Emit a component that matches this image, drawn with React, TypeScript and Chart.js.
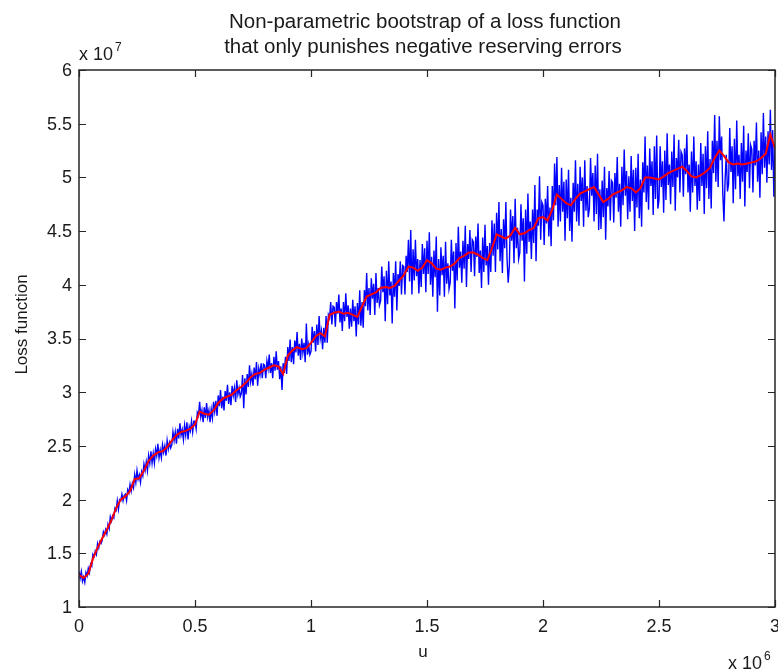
import React, { useEffect, useRef } from "react";
import { Chart, registerables } from "chart.js";

Chart.register(...registerables);

// u axis in units of 10^6, loss function in units of 10^7
const BLUE_STEP = 0.005;
const RED_STEP = 0.02;

const bootstrapLoss: number[] = [
  1.33, 1.27, 1.33, 1.24, 1.28, 1.23, 1.32, 1.29, 1.36, 1.32, 1.40, 1.38, 1.49, 1.47, 1.52, 1.49, 1.59, 1.55, 1.61, 1.59,
  1.62, 1.70, 1.67, 1.72, 1.68, 1.77, 1.73, 1.84, 1.80, 1.85, 1.83, 1.92, 1.90, 1.99, 1.91, 2.00, 1.99, 2.05, 1.99, 2.04,
  2.05, 1.99, 2.09, 2.06, 2.14, 2.08, 2.15, 2.11, 2.23, 2.16, 2.27, 2.19, 2.23, 2.16, 2.26, 2.22, 2.33, 2.27, 2.35, 2.27,
  2.41, 2.34, 2.45, 2.34, 2.43, 2.34, 2.47, 2.41, 2.52, 2.39, 2.46, 2.39, 2.51, 2.44, 2.50, 2.41, 2.55, 2.47, 2.53, 2.48,
  2.51, 2.63, 2.55, 2.63, 2.52, 2.66, 2.57, 2.71, 2.60, 2.65, 2.56, 2.69, 2.60, 2.72, 2.56, 2.68, 2.64, 2.73, 2.63, 2.73,
  2.73, 2.66, 2.81, 2.78, 2.91, 2.77, 2.83, 2.72, 2.86, 2.76, 2.90, 2.77, 2.83, 2.72, 2.84, 2.76, 2.91, 2.82, 2.92, 2.78,
  2.97, 2.87, 3.02, 2.85, 2.96, 2.83, 3.01, 2.92, 3.07, 2.89, 3.00, 2.88, 3.06, 2.97, 3.04, 2.91, 3.11, 2.98, 3.04, 2.96,
  2.99, 3.16, 2.85, 3.13, 2.98, 3.17, 3.05, 3.25, 3.10, 3.17, 3.06, 3.23, 3.12, 3.28, 3.06, 3.22, 3.16, 3.27, 3.13, 3.26,
  3.25, 3.13, 3.29, 3.22, 3.35, 3.18, 3.27, 3.13, 3.33, 3.20, 3.38, 3.21, 3.29, 3.12, 3.24, 3.02, 3.27, 3.18, 3.33, 3.17,
  3.42, 3.29, 3.49, 3.28, 3.42, 3.26, 3.48, 3.37, 3.56, 3.34, 3.45, 3.30, 3.50, 3.37, 3.46, 3.28, 3.64, 3.35, 3.44, 3.35,
  3.38, 3.61, 3.46, 3.57, 3.38, 3.63, 3.44, 3.71, 3.50, 3.57, 3.40, 3.60, 3.46, 3.71, 3.46, 3.72, 3.69, 3.84, 3.63, 3.80,
  3.79, 3.61, 3.84, 3.73, 3.91, 3.65, 3.78, 3.57, 3.84, 3.66, 3.92, 3.70, 3.81, 3.59, 3.78, 3.61, 3.86, 3.66, 3.80, 3.52,
  3.83, 3.63, 3.95, 3.62, 3.84, 3.60, 3.95, 3.80, 4.11, 3.76, 3.97, 3.72, 4.06, 3.87, 4.01, 3.72, 4.11, 3.83, 3.97, 3.81,
  3.85, 4.17, 3.93, 4.08, 3.66, 4.13, 3.82, 4.22, 3.90, 4.03, 3.64, 4.11, 3.89, 4.22, 3.76, 4.10, 3.99, 4.22, 3.91, 4.18,
  4.17, 3.91, 4.27, 4.12, 4.42, 4.03, 4.51, 3.91, 4.33, 4.04, 4.42, 4.08, 4.24, 3.92, 4.23, 3.98, 4.38, 4.10, 4.34, 3.93,
  4.41, 4.10, 4.49, 4.00, 4.26, 3.89, 4.32, 4.07, 4.45, 3.75, 4.24, 3.90, 4.35, 4.09, 4.27, 3.89, 4.40, 4.01, 4.20, 3.96,
  4.02, 4.42, 4.13, 4.31, 3.78, 4.39, 4.04, 4.54, 4.16, 4.31, 4.02, 4.41, 4.15, 4.55, 3.98, 4.38, 4.24, 4.51, 4.12, 4.42,
  4.40, 4.08, 4.45, 4.26, 4.57, 4.11, 4.32, 3.97, 4.44, 4.12, 4.56, 4.18, 4.36, 4.00, 4.39, 4.12, 4.60, 4.27, 4.57, 4.12,
  4.67, 4.33, 4.77, 4.22, 4.52, 4.11, 4.61, 4.34, 4.77, 4.24, 4.02, 4.18, 4.70, 4.41, 4.64, 4.20, 4.80, 4.34, 4.53, 4.24,
  4.30, 4.75, 4.41, 4.62, 4.03, 4.70, 4.29, 4.85, 4.40, 4.59, 4.24, 4.70, 4.39, 4.93, 4.22, 4.70, 4.55, 5.01, 4.42, 4.77,
  4.74, 4.37, 4.80, 4.57, 4.92, 4.45, 4.72, 4.36, 4.92, 4.60, 5.13, 4.74, 5.19, 4.54, 4.93, 4.59, 5.09, 4.68, 4.96, 4.41,
  4.98, 4.62, 5.07, 4.50, 4.81, 4.40, 4.95, 4.68, 5.16, 4.59, 4.94, 4.55, 5.10, 4.78, 5.00, 4.54, 5.16, 4.69, 4.92, 4.63,
  4.71, 5.18, 4.83, 5.04, 4.59, 5.11, 4.66, 5.22, 4.51, 4.89, 4.52, 4.97, 4.63, 5.10, 4.42, 4.90, 4.73, 5.06, 4.60, 4.97,
  4.95, 4.58, 5.04, 4.81, 5.19, 4.68, 4.94, 4.54, 5.10, 4.74, 5.26, 4.83, 5.06, 4.61, 5.01, 4.68, 5.20, 4.78, 5.07, 4.50,
  5.09, 4.72, 5.22, 4.62, 4.98, 4.54, 5.14, 4.86, 5.38, 4.77, 5.11, 4.70, 5.27, 4.92, 5.15, 4.65, 5.29, 4.80, 5.39, 4.71,
  4.79, 5.29, 4.91, 5.15, 4.67, 5.25, 4.79, 5.41, 4.93, 5.12, 4.75, 5.24, 4.91, 5.40, 4.69, 5.18, 5.00, 5.35, 4.86, 5.24,
  5.21, 4.82, 5.27, 5.03, 5.40, 4.86, 5.12, 4.68, 5.24, 4.86, 5.38, 4.92, 5.15, 4.70, 5.12, 4.78, 5.32, 4.92, 5.22, 4.66,
  5.29, 4.90, 5.43, 4.80, 5.17, 4.71, 5.34, 5.04, 5.58, 4.96, 5.34, 4.91, 5.57, 5.16, 5.38, 4.85, 4.59, 4.98, 5.21, 4.87,
  4.94, 5.46, 5.05, 5.29, 4.76, 5.36, 4.89, 5.53, 5.01, 5.21, 4.80, 5.32, 4.96, 5.48, 4.73, 5.25, 5.05, 5.41, 4.90, 5.30,
  5.26, 4.86, 5.34, 5.11, 5.51, 4.96, 5.25, 4.81, 5.42, 5.03, 5.60, 5.09, 5.38, 4.95, 5.43, 5.12, 5.63, 5.07, 5.44, 4.82,
  5.30,
];

const smoothedLoss: number[] = [
  1.30, 1.27, 1.31, 1.45, 1.55, 1.64, 1.72, 1.81, 1.92, 2.00,
  2.03, 2.08, 2.19, 2.20, 2.27, 2.36, 2.41, 2.44, 2.45, 2.49,
  2.55, 2.60, 2.63, 2.64, 2.66, 2.70, 2.82, 2.80, 2.79, 2.83,
  2.90, 2.94, 2.96, 2.98, 3.02, 3.05, 3.09, 3.14, 3.17, 3.18,
  3.21, 3.23, 3.25, 3.24, 3.17, 3.34, 3.39, 3.42, 3.40, 3.41,
  3.46, 3.52, 3.55, 3.52, 3.72, 3.74, 3.75, 3.73, 3.74, 3.72,
  3.70, 3.80, 3.89, 3.91, 3.93, 3.97, 3.98, 3.97, 3.99, 4.04,
  4.09, 4.17, 4.16, 4.13, 4.16, 4.23, 4.20, 4.15, 4.14, 4.16,
  4.17, 4.20, 4.25, 4.27, 4.30, 4.30, 4.28, 4.25, 4.23, 4.34,
  4.47, 4.45, 4.43, 4.46, 4.53, 4.47, 4.48, 4.51, 4.53, 4.62,
  4.63, 4.60, 4.70, 4.84, 4.80, 4.76, 4.74, 4.80, 4.85, 4.87,
  4.89, 4.91, 4.84, 4.77, 4.80, 4.84, 4.86, 4.88, 4.91, 4.90,
  4.86, 4.90, 5.00, 5.00, 4.99, 4.98, 5.01, 5.04, 5.06, 5.08,
  5.10, 5.06, 5.01, 5.00, 5.02, 5.05, 5.09, 5.18, 5.25, 5.20,
  5.14, 5.12, 5.13, 5.12, 5.13, 5.14, 5.15, 5.18, 5.22, 5.40,
  5.27,
];

const xTickValues = [0, 0.5, 1, 1.5, 2, 2.5, 3];
const xTickLabels = ["0", "0.5", "1", "1.5", "2", "2.5", "3"];
const yTickValues = [1, 1.5, 2, 2.5, 3, 3.5, 4, 4.5, 5, 5.5, 6];
const yTickLabels = ["1", "1.5", "2", "2.5", "3", "3.5", "4", "4.5", "5", "5.5", "6"];
const titleLines = [
  "Non-parametric bootstrap of a loss function",
  "that only punishes negative reserving errors",
];
const xAxisLabel = "u";
const yAxisLabel = "Loss function";
const xExponent = "6";
const yExponent = "7";

const FONT = '"Liberation Sans", Arial, Helvetica, sans-serif';

const matlabAxesPlugin = {
  id: "matlabAxes",
  afterDraw(chart: any) {
    const ctx: CanvasRenderingContext2D = chart.ctx;
    const { left, right, top, bottom } = chart.chartArea;
    const xs = chart.scales.x;
    const ys = chart.scales.y;
    ctx.save();
    // box
    ctx.strokeStyle = "#262626";
    ctx.lineWidth = 1.5;
    ctx.strokeRect(left, top, right - left, bottom - top);
    // ticks
    const tl = 7;
    ctx.beginPath();
    xTickValues.forEach((v) => {
      const px = Math.round(xs.getPixelForValue(v)) + 0.5;
      ctx.moveTo(px, bottom);
      ctx.lineTo(px, bottom - tl);
      ctx.moveTo(px, top);
      ctx.lineTo(px, top + tl);
    });
    yTickValues.forEach((v) => {
      const py = Math.round(ys.getPixelForValue(v)) + 0.5;
      ctx.moveTo(left, py);
      ctx.lineTo(left + tl, py);
      ctx.moveTo(right, py);
      ctx.lineTo(right - tl, py);
    });
    ctx.lineWidth = 1.2;
    ctx.stroke();

    ctx.fillStyle = "#1a1a1a";
    // tick labels
    ctx.font = `18px ${FONT}`;
    ctx.textAlign = "center";
    ctx.textBaseline = "alphabetic";
    xTickValues.forEach((v, i) => {
      ctx.fillText(xTickLabels[i], xs.getPixelForValue(v), bottom + 25);
    });
    ctx.textAlign = "right";
    ctx.textBaseline = "middle";
    yTickValues.forEach((v, i) => {
      ctx.fillText(yTickLabels[i], left - 7, ys.getPixelForValue(v) + 1);
    });

    // exponents
    ctx.textAlign = "left";
    ctx.textBaseline = "alphabetic";
    ctx.font = `18px ${FONT}`;
    const yBase = "x 10";
    ctx.fillText(yBase, left, top - 10);
    const wY = ctx.measureText(yBase).width;
    ctx.font = `12px ${FONT}`;
    ctx.fillText(yExponent, left + wY + 2, top - 19);
    ctx.font = `18px ${FONT}`;
    ctx.fillText(yBase, right - 47, bottom + 62);
    const wX = ctx.measureText(yBase).width;
    ctx.font = `12px ${FONT}`;
    ctx.fillText(xExponent, right - 47 + wX + 2, bottom + 53);

    // axis labels
    ctx.font = `17px ${FONT}`;
    ctx.textAlign = "center";
    ctx.fillText(xAxisLabel, (left + right) / 2 - 4, bottom + 50);
    ctx.save();
    ctx.translate(27, (top + bottom) / 2 - 14);
    ctx.rotate(-Math.PI / 2);
    ctx.textBaseline = "alphabetic";
    ctx.fillText(yAxisLabel, 0, 0);
    ctx.restore();

    // title
    ctx.font = `20.5px ${FONT}`;
    ctx.textAlign = "center";
    ctx.textBaseline = "alphabetic";
    ctx.fillText(titleLines[0], (left + right) / 2 - 2, 28);
    ctx.fillText(titleLines[1], (left + right) / 2 - 4, 53);
    ctx.restore();
  },
};

export default function App() {
  const canvasRef = useRef<HTMLCanvasElement | null>(null);

  useEffect(() => {
    const canvas = canvasRef.current;
    if (!canvas) return;
    const blue = bootstrapLoss.map((y, i) => ({ x: i * BLUE_STEP, y }));
    const red = smoothedLoss.map((y, i) => ({ x: i * RED_STEP, y }));
    const chart = new Chart(canvas, {
      type: "line",
      data: {
        datasets: [
          {
            label: "smoothed",
            data: red,
            borderColor: "#ff0000",
            borderWidth: 2,
            pointRadius: 0,
            tension: 0,
            fill: false,
          },
          {
            label: "bootstrap",
            data: blue,
            borderColor: "#0000ff",
            borderWidth: 1.4,
            pointRadius: 0,
            tension: 0,
            fill: false,
          },
        ],
      },
      options: {
        responsive: false,
        animation: false,
        events: [],
        layout: { padding: { left: 79, top: 70, right: 3, bottom: 64 } },
        plugins: {
          legend: { display: false },
          tooltip: { enabled: false },
          title: { display: false },
        },
        scales: {
          x: { type: "linear", min: 0, max: 3, display: false },
          y: { type: "linear", min: 1, max: 6, display: false },
        },
      },
      plugins: [
        {
          id: "whiteBg",
          beforeDraw(c: any) {
            const g = c.ctx;
            g.save();
            g.fillStyle = "#ffffff";
            g.fillRect(0, 0, c.width, c.height);
            g.restore();
          },
        },
        matlabAxesPlugin,
      ],
    });
    return () => chart.destroy();
  }, []);

  return (
    <div style={{ position: "absolute", left: 0, top: 0, width: 778, height: 671, background: "#fff" }}>
      <canvas ref={canvasRef} width={778} height={671} style={{ display: "block" }} />
    </div>
  );
}
